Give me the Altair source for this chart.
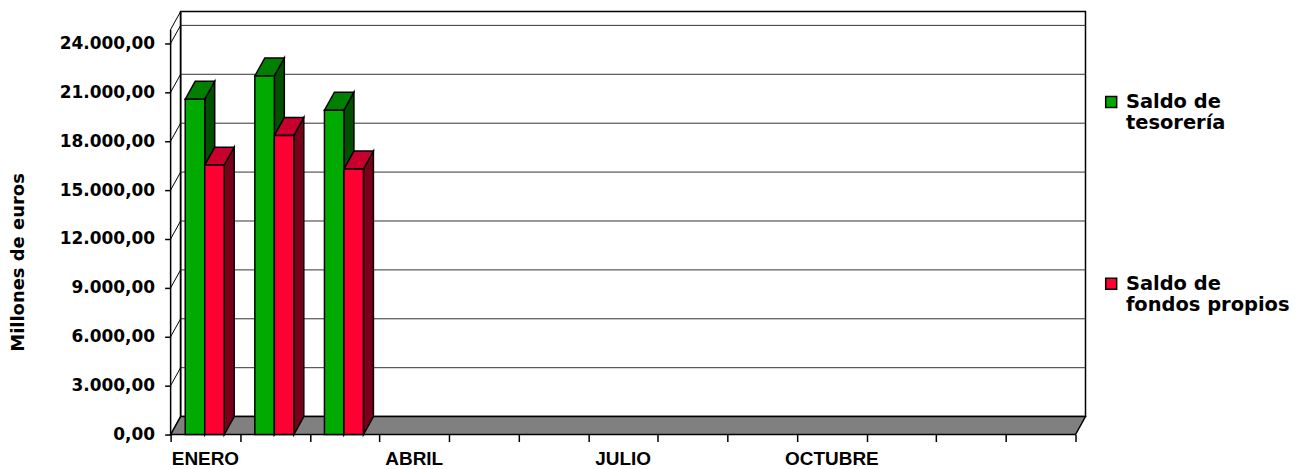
import altair as alt
import pandas as pd

# ---------------- data ----------------
months = ["ENERO", "FEBRERO", "MARZO", "ABRIL", "MAYO", "JUNIO", "JULIO",
          "AGOSTO", "SEPTIEMBRE", "OCTUBRE", "NOVIEMBRE", "DICIEMBRE", ""]
series_names = ["Saldo de tesorería", "Saldo de fondos propios"]
tesoreria = [20570, 22000, 19900]
fondos_propios = [16530, 18350, 16290]
y_ticks = [0, 3000, 6000, 9000, 12000, 15000, 18000, 21000, 24000]
label_step = 3

# ---------------- style / geometry ----------------
W, H = 917, 424
N = len(months)
DX_PX, DY_PX = 10, 18
cat_px = (W - DX_PX) / N
DXU = DX_PX / cat_px
Y_FRONT = 24850
DYU = DY_PX * Y_FRONT / (H - DY_PX)
Y_TOP = Y_FRONT + DYU
X_MAX = N + DXU
BAR_START, BAR_W = 0.21, 0.28

front_colors = ["#00AA00", "#FF0033"]
top_colors = ["#008000", "#C8002D"]
side_colors = ["#005000", "#7A001A"]

xs = alt.Scale(domain=[0, X_MAX], nice=False, zero=False)
ys = alt.Scale(domain=[0, Y_TOP], nice=False, zero=False)

x_axis = alt.Axis(
    values=list(range(N + 1)), labels=False,
    tickSize=7, tickColor="black", tickWidth=1.5, domain=False, grid=False, title=None)

y_axis = alt.Axis(
    values=y_ticks,
    labelExpr="replace(replace(replace(format(datum.value, ',.2f'), regexp(',', 'g'), '#'), regexp('[.]', 'g'), ','), regexp('#', 'g'), '.')",
    tickSize=6, tickColor="black", tickWidth=1.5, domain=False, grid=False,
    labelFont="DejaVu Sans", labelFontSize=17, labelFontWeight="bold",
    labelColor="black", labelPadding=10,
    title="Millones de euros", titleFont="DejaVu Sans", titleFontSize=18,
    titleFontWeight="bold", titleColor="black", titleAngle=270,
    titleX=-152, titleY=251, titleAlign="center", titleBaseline="middle")


def X(f):
    return alt.X(f"{f}:Q", scale=xs, axis=x_axis)


def Y(f):
    return alt.Y(f"{f}:Q", scale=ys, axis=y_axis)


# ---------------- walls ----------------
back_df = pd.DataFrame({"x": [DXU], "x2": [X_MAX], "y": [DYU], "y2": [Y_TOP]})
back = alt.Chart(back_df).mark_rect(fill="white", stroke="black", strokeWidth=1.5).encode(
    x=X("x"), x2="x2", y=Y("y"), y2="y2")

grid_df = pd.DataFrame({"v": [v + DYU for v in y_ticks[1:]], "x": DXU, "x2": X_MAX})
grid = alt.Chart(grid_df).mark_rule(color="#333333", strokeWidth=1).encode(
    x=X("x"), x2="x2", y=Y("v"))

diag_vals = y_ticks + [Y_FRONT]
diag_df = pd.DataFrame({"x": 0.0, "x2": DXU, "y": diag_vals, "y2": [v + DYU for v in diag_vals]})
diag = alt.Chart(diag_df).mark_rule(color="black", strokeWidth=1).encode(
    x=X("x"), x2="x2", y=Y("y"), y2="y2")

vert_df = pd.DataFrame({"x": [0.0, DXU], "y": [0.0, DYU], "y2": [Y_FRONT, Y_TOP]})
vert = alt.Chart(vert_df).mark_rule(color="black", strokeWidth=1.5).encode(
    x=X("x"), y=Y("y"), y2="y2")

floor_df = pd.DataFrame({"x": [0.0, DXU, float(N), X_MAX],
                         "lo": [0.0, 0.0, 0.0, DYU],
                         "hi": [0.0, DYU, DYU, DYU]})
floor = alt.Chart(floor_df).mark_area(fill="#808080", stroke="black", strokeWidth=1.5,
                                      interpolate="linear", orient="vertical").encode(
    x=X("x"), y=Y("lo"), y2="hi")

# ---------------- month labels ----------------
lab_df = pd.DataFrame({"xc": [i + 0.5 for i in range(N) if i % label_step == 0 and months[i]],
                       "m": [m for i, m in enumerate(months) if i % label_step == 0 and m]})
labels = alt.Chart(lab_df).mark_text(font="Liberation Sans", fontSize=19, fontWeight="bold",
                                     color="black", baseline="middle", align="center").encode(
    x=X("xc"), y=alt.value(H + 25), text="m:N")

# ---------------- bars ----------------
front_rows, side_rows, top_rows = [], [], []
for j, vals in enumerate([tesoreria, fondos_propios]):
    for i, v in enumerate(vals):
        xl = i + BAR_START + j * BAR_W
        xr = xl + BAR_W
        bid = f"{j}-{i}"
        front_rows.append({"series": series_names[j], "xl": xl, "xr": xr, "y0": 0.0, "v": v})
        side_rows += [
            {"id": bid, "x": xr, "lo": 0.0, "hi": v, "c": side_colors[j]},
            {"id": bid, "x": xr + DXU, "lo": DYU, "hi": v + DYU, "c": side_colors[j]},
        ]
        top_rows += [
            {"id": bid, "x": xl, "lo": v, "hi": v, "c": top_colors[j]},
            {"id": bid, "x": xl + DXU, "lo": v, "hi": v + DYU, "c": top_colors[j]},
            {"id": bid, "x": xr, "lo": v, "hi": v + DYU, "c": top_colors[j]},
            {"id": bid, "x": xr + DXU, "lo": v + DYU, "hi": v + DYU, "c": top_colors[j]},
        ]

sides = alt.Chart(pd.DataFrame(side_rows)).mark_area(stroke="black", strokeWidth=1.5,
                                                      interpolate="linear", orient="vertical").encode(
    x=X("x"), y=Y("lo"), y2="hi", detail="id:N",
    fill=alt.Fill("c:N", scale=None))

tops = alt.Chart(pd.DataFrame(top_rows)).mark_area(stroke="black", strokeWidth=1.5,
                                                    interpolate="linear", orient="vertical").encode(
    x=X("x"), y=Y("lo"), y2="hi", detail="id:N",
    fill=alt.Fill("c:N", scale=None))

label_expr = ("[slice(datum.label, 0, indexof(datum.label, ' de ') + 3), "
              "slice(datum.label, indexof(datum.label, ' de ') + 4)]")
fronts = alt.Chart(pd.DataFrame(front_rows)).mark_rect(stroke="black", strokeWidth=1.5).encode(
    x=X("xl"), x2="xr", y=Y("y0"), y2="v",
    color=alt.Color("series:N",
                    scale=alt.Scale(domain=series_names, range=front_colors),
                    legend=alt.Legend(orient="none", legendX=933, legendY=81, title=None,
                                      symbolType="square", symbolSize=121,
                                      symbolStrokeColor="black", symbolStrokeWidth=1.5,
                                      labelFont="DejaVu Sans", labelFontSize=19.5,
                                      labelFontWeight="bold", labelColor="black",
                                      labelLimit=400, labelExpr=label_expr,
                                      labelBaseline="middle", labelOffset=5,
                                      rowPadding=140, padding=0)))

chart = alt.layer(back, grid, diag, vert, floor, sides, tops, fronts, labels).properties(
    width=W, height=H,
    autosize=alt.AutoSizeParams(type="none"),
    padding={"left": 163, "top": 3, "right": 215, "bottom": 40},
    background="white",
).configure_view(stroke=None)

chart.save("out.html", embed_options={"renderer": "svg", "actions": False})
